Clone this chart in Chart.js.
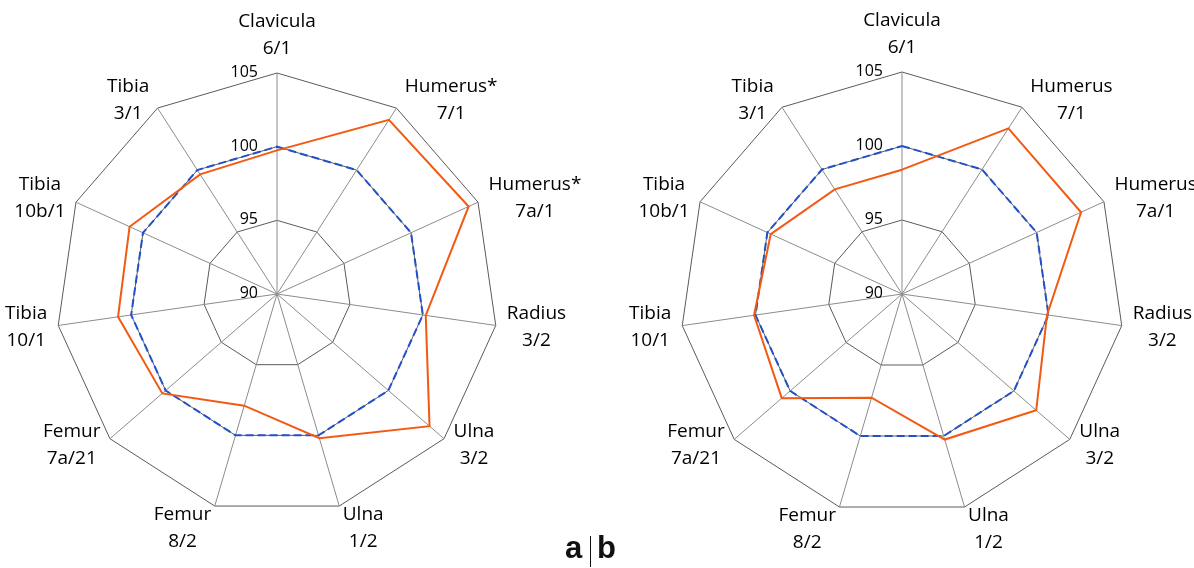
<!DOCTYPE html>
<html>
<head>
<meta charset="utf-8">
<script src="https://cdn.jsdelivr.net/npm/chart.js@4/dist/chart.umd.min.js"></script>
<style>
  html, body { margin: 0; padding: 0; background: #ffffff; }
  #wrap { position: relative; width: 1194px; height: 568px; overflow: hidden; background: #fff; }
  canvas { position: absolute; top: 0; }
  #ca { left: 0; }
  #cb { left: 597px; }
  .ab { position: absolute; font: bold 31px "Liberation Sans", Arial, sans-serif; color: #111; line-height: 1; }
  #bar { position: absolute; left: 590px; top: 536px; width: 1px; height: 31px; background: #111; }
</style>
</head>
<body>
<div id="wrap">
  <canvas id="ca" width="597" height="568"></canvas>
  <canvas id="cb" width="597" height="568"></canvas>
  <div class="ab" style="left:565px; top:532px;">a</div>
  <div id="bar"></div>
  <div class="ab" style="left:597px; top:532px;">b</div>
</div>
<script>
// ---- data ----
const categoriesA = [['Clavicula','6/1'],['Humerus*','7/1'],['Humerus*','7a/1'],['Radius','3/2'],['Ulna','3/2'],['Ulna','1/2'],['Femur','8/2'],['Femur','7a/21'],['Tibia','10/1'],['Tibia','10b/1'],['Tibia','3/1']];
const categoriesB = [['Clavicula','6/1'],['Humerus','7/1'],['Humerus','7a/1'],['Radius','3/2'],['Ulna','3/2'],['Ulna','1/2'],['Femur','8/2'],['Femur','7a/21'],['Tibia','10/1'],['Tibia','10b/1'],['Tibia','3/1']];
const orangeA = [99.75, 104.05, 104.3, 100.2, 103.7, 100.2, 97.9, 100.3, 100.9, 101.0, 99.65];
const blueA   = [100, 100, 100, 100, 100, 100, 100, 100, 100, 100, 100];
const orangeB = [98.4, 103.3, 103.3, 99.9, 102.0, 100.25, 97.3, 100.75, 100.1, 99.75, 98.4];
const blueB   = [100, 100, 100, 100, 100, 100, 100, 100, 100, 100, 100];
const tickValues = [90, 95, 100, 105];

const ORANGE = '#F25A14';
const BLUE = '#2250C8';
const TEXT = '#000000';

const labelPlugin = {
  id: 'customLabels',
  afterDraw(chart) {
    const s = chart.scales.r;
    const ctx = chart.ctx;
    ctx.save();
    ctx.fillStyle = TEXT;
    // tick labels, left of the vertical axis
    ctx.font = '16px "Open Sans"';
    ctx.textAlign = 'right';
    ctx.textBaseline = 'middle';
    tickValues.forEach(v => {
      const d = s.getDistanceFromCenterForValue(v);
      ctx.fillText(String(v), s.xCenter - 19, s.yCenter - d - 0.5);
    });
    // point labels
    ctx.font = '19px "Open Sans"';
    ctx.textAlign = 'center';
    const labels = chart.data.labels;
    const n = labels.length;
    labels.forEach((lines, i) => {
      const p = s.getPointPosition(i, s.drawingArea);
      const th = 2 * Math.PI * i / n;
      const sn = Math.sin(th), cs = Math.cos(th);
      const w = Math.max(...lines.map(t => ctx.measureText(t).width));
      const h = 54;
      let cx, cy;
      if (Math.abs(sn) < 0.1 && cs > 0) {
        cx = p.x; cy = p.y - (h / 2 + 11);
      } else if (cs < -0.9) {
        cx = p.x + Math.sign(sn) * (w / 2 + 3.5); cy = p.y + h / 2 - 5;
      } else {
        cx = p.x + Math.sign(sn) * (w / 2 + 5 + 6 * Math.abs(sn)); cy = p.y - cs * 9;
      }
      lines.forEach((t, k) => ctx.fillText(t, cx, cy + (k - (lines.length - 1) / 2) * 27));
    });
    ctx.restore();
  }
};

function makeChart(id, labels, orange, blue, pad) {
  return new Chart(document.getElementById(id), {
    type: 'radar',
    data: {
      labels: labels,
      datasets: [
        { data: orange, borderColor: ORANGE, borderWidth: 2, fill: false, pointRadius: 0, tension: 0, order: 0 },
        { data: blue, borderColor: BLUE, borderWidth: 2, borderDash: [8, 4], fill: false, pointRadius: 0, tension: 0, order: 1 }
      ]
    },
    options: {
      responsive: false,
      animation: false,
      devicePixelRatio: 1,
      layout: { padding: pad },
      plugins: { legend: { display: false }, tooltip: { enabled: false } },
      elements: { line: { borderJoinStyle: 'miter' } },
      scales: {
        r: {
          min: 90, max: 105,
          ticks: { stepSize: 5, display: false },
          grid: { color: '#5a5a5a', lineWidth: 1 },
          angleLines: { color: '#8c8c8c', lineWidth: 1 },
          pointLabels: { display: false }
        }
      }
    },
    plugins: [labelPlugin]
  });
}

makeChart('ca', categoriesA, orangeA, blueA, { left: 56, right: 99, top: 73, bottom: 53 });
makeChart('cb', categoriesB, orangeB, blueB, { left: 83, right: 70, top: 72, bottom: 52 });
</script>
</body>
</html>
